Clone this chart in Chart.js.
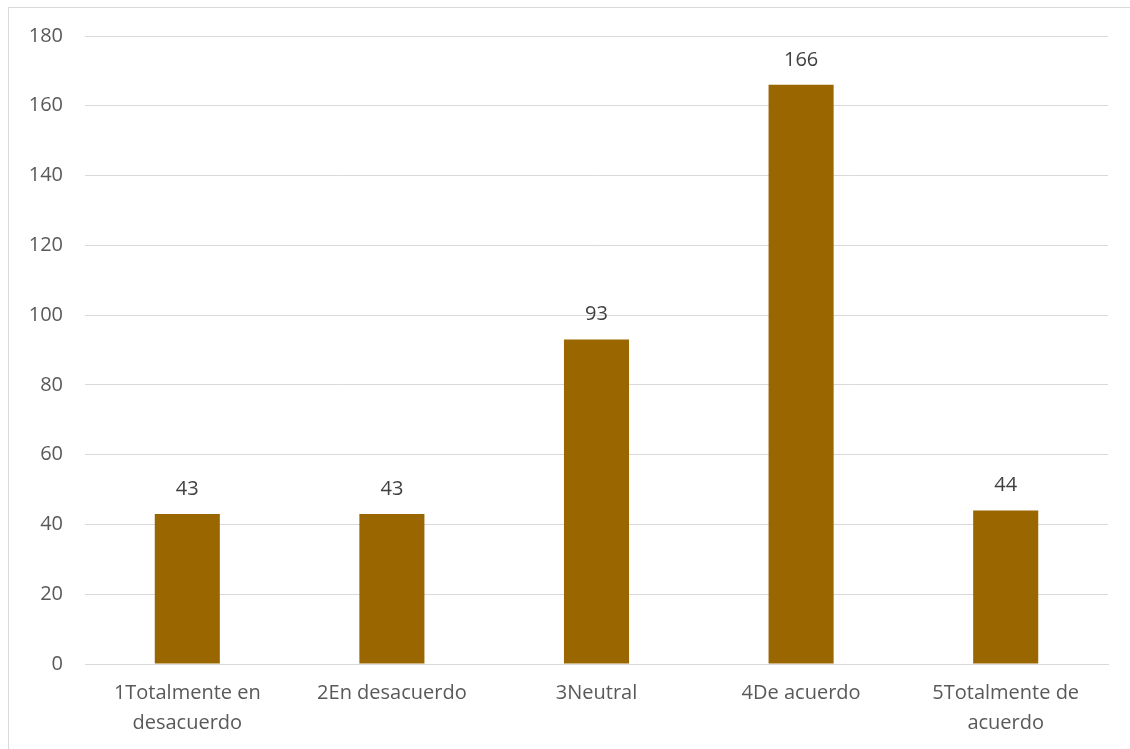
<!DOCTYPE html>
<html>
<head>
<meta charset="utf-8">
<script src="https://cdn.jsdelivr.net/npm/chart.js@4/dist/chart.umd.min.js"></script>
<style>
html,body{margin:0;padding:0;background:#fff;}
#wrap{width:1130px;height:749px;position:relative;}
</style>
</head>
<body>
<div id="wrap"><canvas id="myChart" width="1130" height="749"></canvas></div>
<script>
var categories=[["1Totalmente en","desacuerdo"],"2En desacuerdo","3Neutral","4De acuerdo",["5Totalmente de","acuerdo"]];
var values=[43,43,93,166,44];
var yTicks=[0,20,40,60,80,100,120,140,160,180];

var frame={
	id:"frame",
	beforeDraw:function(chart){
		var c=chart.ctx;
		c.save();
		c.fillStyle="#fff";
		c.fillRect(0,0,chart.width,chart.height);
		c.strokeStyle="#d9d9d9";
		c.lineWidth=1;
		c.strokeRect(8.5,7.5,1200,1200);
		c.restore();
	}
};

var barLabels={
	id:"barLabels",
	afterDatasetsDraw:function(chart){
		var c=chart.ctx;
		var meta=chart.getDatasetMeta(0);
		c.save();
		c.font="20px 'Open Sans'";
		c.fillStyle="#404040";
		c.textAlign="center";
		c.textBaseline="middle";
		meta.data.forEach(function(bar,i){
			c.fillText(values[i],bar.x,bar.y-25);
		});
		c.restore();
	}
};

var ctx=document.getElementById("myChart").getContext("2d");
var chart=new Chart(ctx,{
	type:"bar",
	data:{
		labels:categories,
		datasets:[{
			label:"Serie",
			data:values,
			backgroundColor:"#996600",
			categoryPercentage:1,
			barPercentage:0.318
		}]
	},
	options:{
		responsive:false,
		animation:false,
		layout:{padding:{left:0,top:36,right:22,bottom:0}},
		plugins:{legend:{display:false},tooltip:{enabled:false}},
		scales:{
			x:{
				grid:{display:false,drawTicks:false},
				border:{display:true,color:"#d9d9d9",width:1},
				ticks:{color:"#595959",font:{family:"Open Sans",size:20,lineHeight:1.5},padding:14,maxRotation:0,autoSkip:false},
				afterFit:function(s){s.height=85;}
			},
			y:{
				min:0,max:180,
				afterBuildTicks:function(s){s.ticks=yTicks.map(function(v){return {value:v};});},
				grid:{color:"#d9d9d9",lineWidth:1,drawTicks:false},
				border:{display:false},
				ticks:{color:"#595959",font:{family:"Open Sans",size:20},padding:22},
				afterFit:function(s){s.width=85;}
			}
		}
	},
	plugins:[frame,barLabels]
});
</script>
</body>
</html>
